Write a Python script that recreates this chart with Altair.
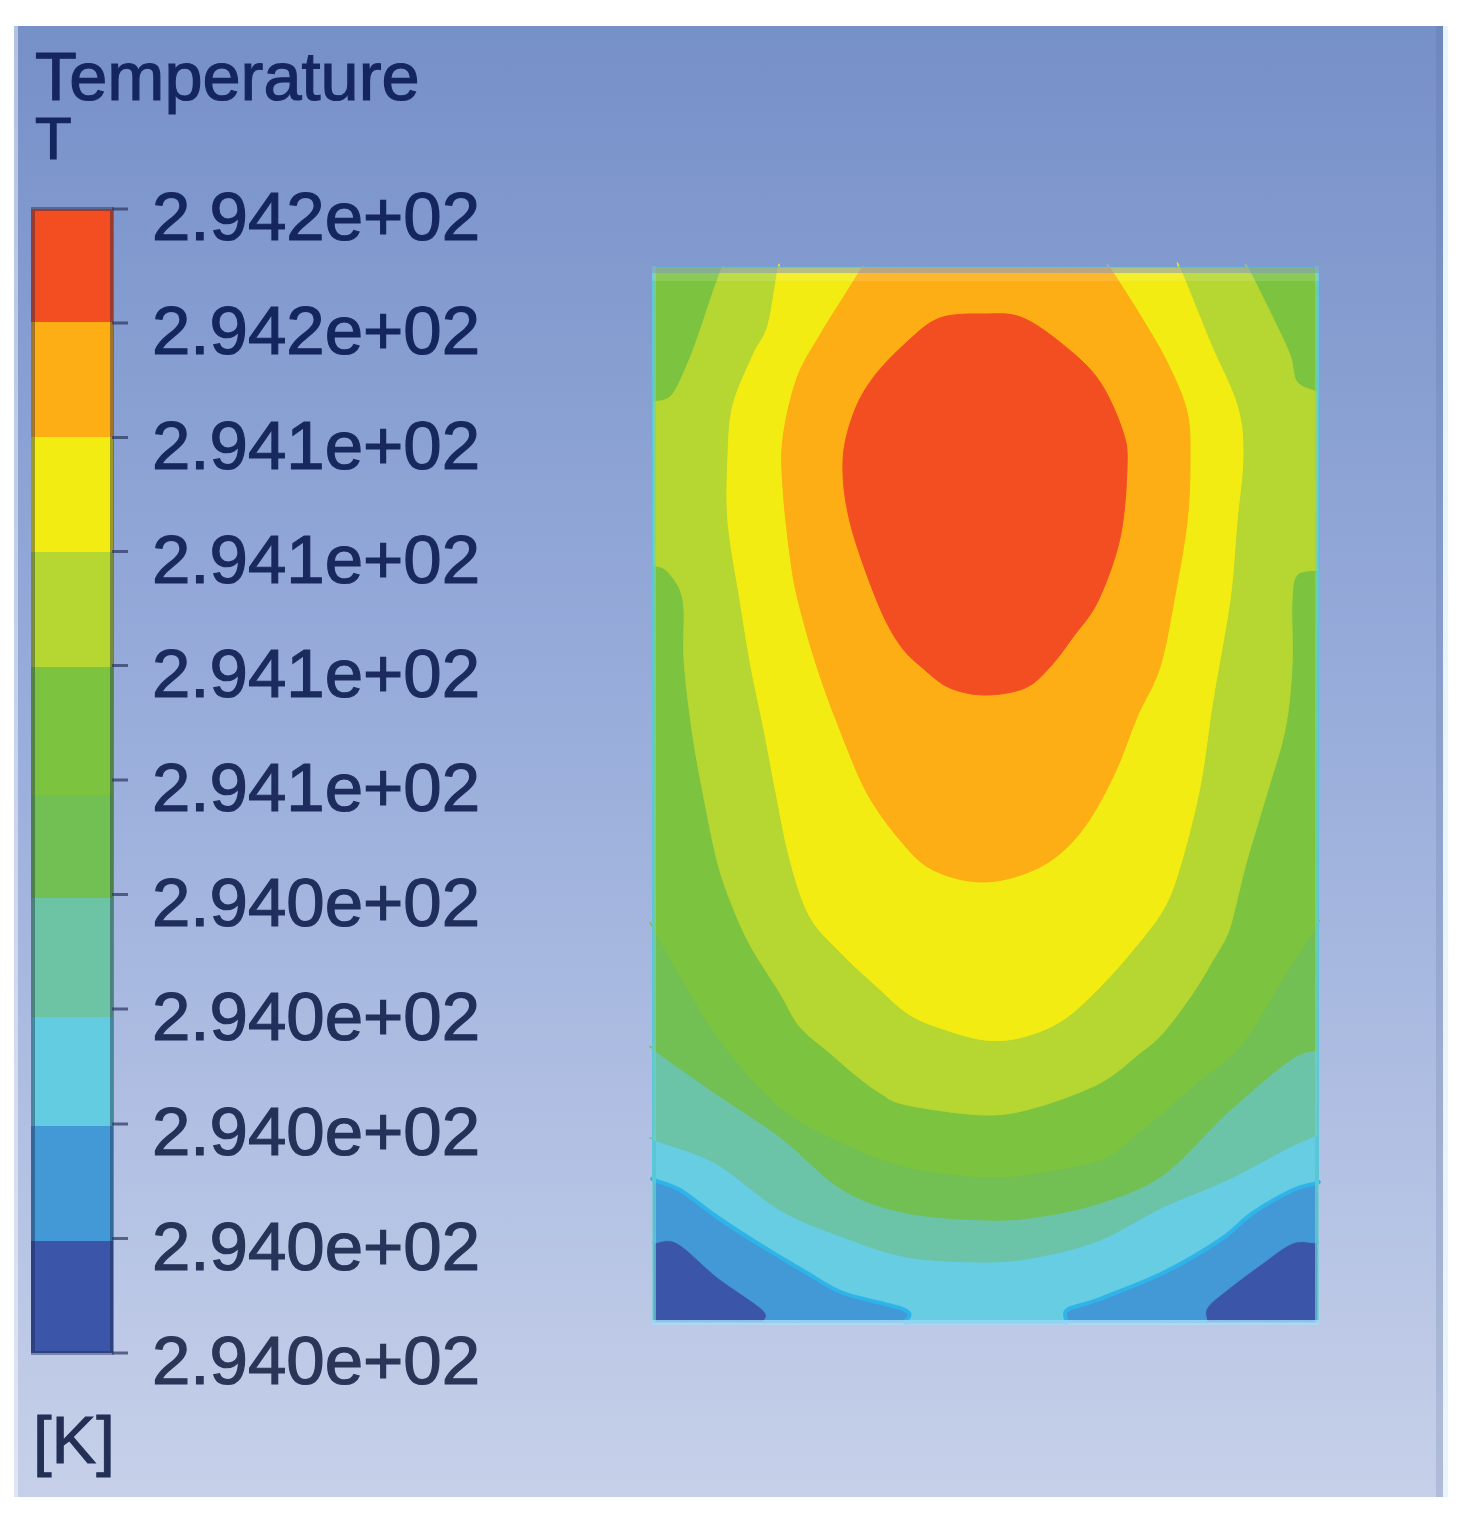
import altair as alt
import pandas as pd

# ---- text ----
title_lines = ["Temperature", "T"]
unit_label = "[K]"
tick_labels = ["2.942e+02", "2.942e+02", "2.941e+02", "2.941e+02", "2.941e+02", "2.941e+02",
               "2.940e+02", "2.940e+02", "2.940e+02", "2.940e+02", "2.940e+02"]
label_colors = ["#15265f", "#15265f", "#17285f", "#19295e", "#1b2b5e", "#1d2c5d",
                "#1f2e5c", "#212f5b", "#24325a", "#273459", "#2a3658"]

# ---- colour key: band colours, top to bottom ----
band_colors = ["#f24e21", "#fdae14", "#f2ec12", "#b6d632", "#7cc340",
               "#72c054", "#6cc4a4", "#64cce0", "#4399d5", "#3b56a9"]
band_edges = [209, 322, 437, 552, 667, 795, 898, 1017, 1126, 1241, 1353]
tick_pos = [209, 323, 437.5, 551.5, 665.5, 780, 894.5, 1009, 1124, 1238.5, 1353]

# ---- field outlines, lowest level first ----
dark_x = [654, 1317, 1317, 654]
dark_y = [268, 268, 1322, 1322]
blue_x = [654, 1317, 1317, 1293, 1263, 1227, 1207, 1207, 763, 763, 717, 677, 654]
blue_y = [268, 268, 1243, 1243, 1263, 1290, 1308, 1322, 1322, 1310, 1277, 1243, 1243]
cyan_x = [654, 1317, 1317, 1293, 1253, 1220, 1163, 1097, 1067, 1067, 905, 905, 843, 807, 757, 717, 680, 654]
cyan_y = [268, 268, 1183, 1190, 1213, 1240, 1273, 1300, 1310, 1322, 1322, 1310, 1293, 1273, 1243, 1217, 1190, 1180]
teal_x = [654, 1317, 1317, 1290, 1227, 1163, 1100, 1037, 985, 907, 843, 780, 715, 654]
teal_y = [268, 268, 1135, 1147, 1180, 1207, 1240, 1257, 1262, 1257, 1237, 1210, 1163, 1140]
gr2_x = [654, 1317, 1317, 1290, 1227, 1163, 1100, 1037, 985, 907, 843, 780, 715, 654]
gr2_y = [268, 268, 1050, 1060, 1113, 1175, 1203, 1217, 1220, 1213, 1190, 1137, 1093, 1050]
gr1_x = [654, 1317, 1317, 1280, 1243, 1197, 1130, 1100, 1037, 985, 907, 843, 780, 715, 654]
gr1_y = [268, 268, 925, 983, 1043, 1083, 1140, 1160, 1173, 1177, 1167, 1143, 1107, 1033, 930]
lime_x = [722, 1248, 1273, 1290, 1297, 1317, 1317, 1297, 1292, 1292, 1285, 1267, 1247, 1237, 1228, 1213, 1193, 1163,
          1140, 1100, 1037, 985, 907, 880, 853, 830, 800, 780, 750, 730, 717, 703, 692, 684, 683, 668, 654, 654, 672,
          690, 703, 713]
lime_y = [268, 268, 318, 355, 382, 392, 570, 575, 602, 667, 730, 793, 860, 900, 933, 960, 993, 1033,
          1053, 1083, 1107, 1115, 1105, 1093, 1073, 1053, 1027, 993, 945, 900, 860, 793, 730, 660, 600, 572, 565, 402, 395,
          358, 322, 292]
yell_x = [778, 1180, 1210, 1237, 1243, 1237, 1230, 1213, 1200, 1180, 1163, 1133, 1100, 1063, 1023, 985, 940, 907,
          873, 843, 810, 790, 776, 764, 751, 740, 728, 728, 733, 753, 768]
yell_y = [268, 268, 342, 405, 455, 522, 600, 700, 787, 867, 910, 950, 987, 1020, 1037, 1040, 1028, 1013,
          983, 955, 917, 860, 793, 730, 667, 600, 522, 455, 405, 355, 325]
oran_x = [862, 1110, 1140, 1167, 1187, 1190, 1187, 1175, 1160, 1137, 1113, 1080, 1040, 985, 933, 900, 867, 840,
          817, 798, 790, 783, 783, 797, 820, 843]
oran_y = [268, 268, 315, 362, 412, 462, 522, 595, 667, 717, 777, 833, 867, 882, 870, 840, 793, 730,
          667, 600, 555, 488, 438, 378, 335, 298]
red_x = [985, 1023, 1067, 1100, 1123, 1127, 1120, 1098, 1073, 1050, 1025, 985, 950, 925, 900, 877, 850, 843, 853, 873, 907, 940]
red_y = [314, 318, 348, 382, 432, 468, 538, 601, 637, 667, 688, 695, 688, 670, 645, 601, 522, 462, 415, 378, 342, 318]

regions = [
    (dark_x, dark_y, "#3b56a9", "#3b56a9", 1),
    (blue_x, blue_y, "#4399d5", "#4399d5", 1),
    (cyan_x, cyan_y, "#66cde2", "#2fb4ea", 4),
    (teal_x, teal_y, "#6cc4a8", "#6cc4a8", 1),
    (gr2_x, gr2_y, "#72c054", "#72c054", 1),
    (gr1_x, gr1_y, "#7cc340", "#7cc340", 1),
    (lime_x, lime_y, "#b6d632", "#b6d632", 1),
    (yell_x, yell_y, "#f2ec12", "#f2ec12", 1),
    (oran_x, oran_y, "#fdae14", "#fdae14", 1),
    (red_x, red_y, "#f24e21", "#f24e21", 1),
]
edge_x = (654, 1317)
edge_y = (268, 1322)

W, H = 1447, 1522
xs = alt.Scale(domain=[8, 8 + W], nice=False, zero=False)
ys = alt.Scale(domain=[8 + H, 8], nice=False, zero=False)
X = lambda f: alt.X(f, type="quantitative", scale=xs, axis=None)
Y = lambda f: alt.Y(f, type="quantitative", scale=ys, axis=None)


def box(x0, x1, y0, y1):
    return pd.DataFrame({"x0": [x0], "x1": [x1], "y0": [y0], "y1": [y1]})


def rect(df, **mark):
    return alt.Chart(df).mark_rect(**mark).encode(
        x=X("x0"), x2=alt.X2("x1"), y=Y("y0"), y2=alt.Y2("y1"))


def outline(rx, ry):
    # straight runs along the field's rim get guide points bunched at their ends,
    # so that the closed spline stays on the rim and turns sharply at its corners
    px, py = [], []
    n = len(rx)
    for k in range(n):
        ax, ay, bx, by = rx[k], ry[k], rx[(k + 1) % n], ry[(k + 1) % n]
        px.append(ax)
        py.append(ay)
        on_rim = (ax == bx and ax in edge_x) or (ay == by and ay in edge_y)
        length = abs(bx - ax) + abs(by - ay)
        if not on_rim or length < 8:
            continue
        ux, uy = (bx - ax) / length, (by - ay) / length
        steps = []
        d = 2
        while d < length / 2:
            steps.append(d)
            d *= 3
        for d in steps + [length - s for s in reversed(steps)]:
            px.append(ax + ux * d)
            py.append(ay + uy * d)
    return pd.DataFrame({"x": px, "y": py, "i": range(len(px))})


layers = []

# backdrop
layers.append(rect(box(14, 1443, 26, 1497), color=alt.Gradient(
    gradient="linear", x1=0, x2=0, y1=0, y2=1,
    stops=[alt.GradientStop(offset=0, color="#7690c8"),
           alt.GradientStop(offset=0.5, color="#9bafdc"),
           alt.GradientStop(offset=1, color="#c6d0e9")])))
layers.append(rect(box(11, 18, 26, 1497), color="#ffffff", opacity=0.45))
layers.append(rect(box(1436, 1443, 26, 1497), color="#4f6590", opacity=0.18))
layers.append(rect(box(1443, 1448, 26, 1497), color="#e6f5fc", opacity=0.9))

# contour field
for rx, ry, col, edge, sw in regions:
    layers.append(alt.Chart(outline(rx, ry)).mark_line(
        fill=col, stroke=edge, strokeWidth=sw, strokeJoin="round",
        interpolate="cardinal-closed", opacity=1
    ).encode(x=X("x"), y=Y("y"), order=alt.Order("i:Q")))

# pale edges of the field
layers.append(rect(box(652, 656, 266, 1322), color="#6ccfd0", opacity=0.7))
layers.append(rect(box(1315, 1319, 266, 1322), color="#6ccfd0", opacity=0.7))
layers.append(rect(box(652, 1319, 266, 273), color="#8fa0c8", opacity=0.6))
layers.append(rect(box(652, 1319, 273, 281), color="#ffffff", opacity=0.12))
layers.append(rect(box(652, 1319, 1320, 1325), color="#a8dcf5", opacity=0.8))

# colour key bands
for i, col in enumerate(band_colors):
    layers.append(rect(box(31, 113, band_edges[i], band_edges[i + 1]), color=col))
layers.append(rect(box(33, 112, band_edges[0], band_edges[-1]), fillOpacity=0, stroke="#1a2040",
                   strokeOpacity=0.4, strokeWidth=4))

# key ticks
tk = pd.DataFrame({"x0": [112] * len(tick_pos), "x1": [128] * len(tick_pos), "y": tick_pos})
layers.append(alt.Chart(tk).mark_rule(color="#2b3560", strokeWidth=3, opacity=0.7).encode(
    x=X("x0"), x2=alt.X2("x1"), y=Y("y")))

# key labels
lb = pd.DataFrame({"x": [152] * len(tick_labels),
                   "y": [p + 31 for p in tick_pos],
                   "t": tick_labels,
                   "c": label_colors})
layers.append(alt.Chart(lb).mark_text(
    font="Liberation Sans", fontSize=69, align="left", baseline="alphabetic",
    strokeWidth=1.2
).encode(x=X("x"), y=Y("y"), text="t:N",
         fill=alt.Fill("c:N", scale=None), stroke=alt.Stroke("c:N", scale=None)))

# title and unit
tt = pd.DataFrame({"x": [35], "y": [100], "t": [title_lines[0]]})
layers.append(alt.Chart(tt).mark_text(
    font="Liberation Sans", fontSize=68.5, align="left", baseline="alphabetic",
    fill="#15265f", stroke="#15265f", strokeWidth=1.2
).encode(x=X("x"), y=Y("y"), text="t:N"))
t2 = pd.DataFrame({"x": [35], "y": [159], "t": [title_lines[1]]})
layers.append(alt.Chart(t2).mark_text(
    font="Liberation Sans", fontSize=60, align="left", baseline="alphabetic",
    fill="#15265f", stroke="#15265f", strokeWidth=1.2
).encode(x=X("x"), y=Y("y"), text="t:N"))
t3 = pd.DataFrame({"x": [33], "y": [1463], "t": [unit_label]})
layers.append(alt.Chart(t3).mark_text(
    font="Liberation Sans", fontSize=67, align="left", baseline="alphabetic",
    fill="#232f55", stroke="#232f55", strokeWidth=1
).encode(x=X("x"), y=Y("y"), text="t:N"))

chart = alt.layer(*layers).properties(
    width=W, height=H, padding=0, autosize=alt.AutoSizeParams(type="none"), background="#ffffff"
).configure_view(stroke=None)

chart.save("out.html", embed_options={"renderer": "svg", "actions": False})
